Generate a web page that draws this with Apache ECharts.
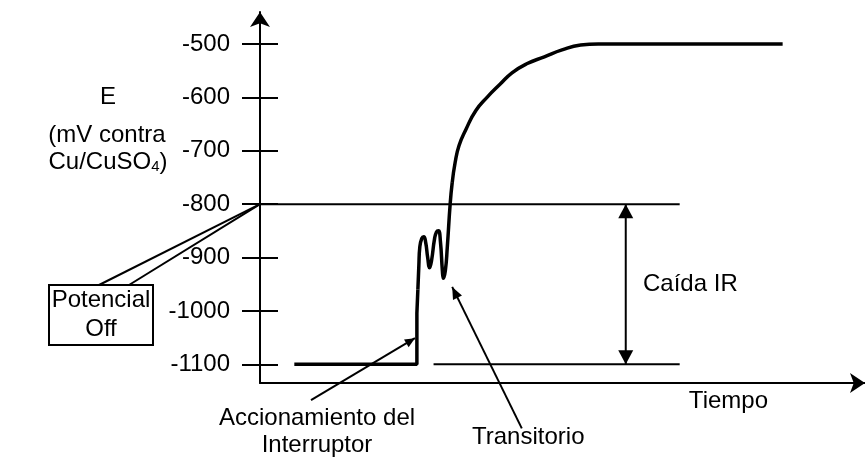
<!DOCTYPE html>
<html>
<head>
<meta charset="utf-8">
<script src="https://cdn.jsdelivr.net/npm/echarts@6/dist/echarts.min.js"></script>
<style>
  html, body { margin: 0; padding: 0; background: #fff; }
  #chart { width: 865px; height: 463px; }
</style>
</head>
<body>
<div id="chart"></div>
<script>
// E (mV vs Cu/CuSO4) tick values
const yTicks = [-1100, -1000, -900, -800, -700, -600, -500]

// time in arbitrary units, potential in mV
const onT = [35, 160, 160, 161]
const onE = [-1100, -1100, -1004, -960]

const transT = [161, 162, 163, 165, 167, 169, 171, 173, 175, 178, 180, 182, 184, 186, 187, 189, 191, 194, 196]
const transE = [-960, -915, -880, -864, -861, -872, -900, -919, -905, -865, -852, -850, -870, -925, -939, -925, -881, -798, -760]

const riseT = [196, 199, 203, 210, 220, 232, 245, 257, 272, 290, 308, 327, 345, 533]
const riseE = [-760, -722, -690, -660, -625, -599, -575, -554, -537, -524, -511, -502, -500, -500]

const offLevelT = [0, 428]
const offLevelE = [-800, -800]
const onLevelT = [177, 428]
const onLevelE = [-1100, -1100]

const FONT = '"Liberation Sans", Arial, sans-serif'
const FS = 24

const pairs = (t, e) => t.map((v, i) => [v, e[i]])

const chart = echarts.init(document.getElementById("chart"))

const thick = { color: "#000", width: 3.5 }
const thin = { color: "#000", width: 2 }

chart.setOption({
  animation: false,
  grid: { left: 260, right: -12, top: 12, bottom: 80 },
  xAxis: {
    type: "value",
    min: 0,
    max: 617,
    axisLine: { symbol: ["none", "arrow"], symbolSize: [15, 15], lineStyle: thin },
    axisTick: { show: false },
    axisLabel: { show: false },
    splitLine: { show: false },
  },
  yAxis: [
    {
      type: "value",
      min: -1135,
      max: -440,
      axisLine: { symbol: ["none", "arrow"], symbolSize: [15, 15], lineStyle: thin },
      axisTick: { customValues: yTicks, length: 18, lineStyle: thin },
      axisLabel: {
        customValues: yTicks,
        formatter: (v) => String(v),
        margin: 30,
        color: "#000",
        fontSize: FS,
        fontFamily: FONT,
      },
      splitLine: { show: false },
    },
    {
      type: "value",
      position: "left",
      min: -1135,
      max: -440,
      axisLine: { show: false },
      axisTick: { inside: true, customValues: yTicks, length: 18, lineStyle: thin },
      axisLabel: { show: false },
      splitLine: { show: false },
    },
  ],
  series: [
    { type: "line", symbol: "none", lineStyle: thin, data: pairs(offLevelT, offLevelE) },
    { type: "line", symbol: "none", lineStyle: thin, data: pairs(onLevelT, onLevelE) },
    { type: "line", symbol: "none", lineStyle: thick, data: pairs(onT, onE) },
    { type: "line", symbol: "none", smooth: 0.5, lineStyle: thick, data: pairs(transT, transE) },
    { type: "line", symbol: "none", smooth: 0.5, lineStyle: thick, data: pairs(riseT, riseE) },
  ],
})

// annotations
const px = (p) => chart.convertToPixel({ gridIndex: 0 }, p)

function arrowHead(tip, from, len, w) {
  const dx = tip[0] - from[0]
  const dy = tip[1] - from[1]
  const d = Math.hypot(dx, dy)
  const ux = dx / d, uy = dy / d
  const bx = tip[0] - ux * len, by = tip[1] - uy * len
  return {
    type: "polygon",
    shape: { points: [tip, [bx - uy * w / 2, by + ux * w / 2], [bx + uy * w / 2, by - ux * w / 2]] },
    style: { fill: "#000" },
  }
}
function seg(a, b, width) {
  return { type: "line", shape: { x1: a[0], y1: a[1], x2: b[0], y2: b[1] }, style: { stroke: "#000", lineWidth: width } }
}
function txt(s, x, y, align) {
  return {
    type: "text",
    style: { text: s, x, y, align: align || "center", verticalAlign: "middle", font: FS + "px " + FONT, fill: "#000" },
  }
}

const irTop = px([373, -800])
const irBot = px([373, -1100])
const offPt = px([0, -800])
const swTip = px([158, -1051])
const swFrom = px([52, -1167])
const trTip = px([196, -955])
const trFrom = px([267, -1220])

chart.setOption({
  graphic: [
    seg(irTop, irBot, 2),
    arrowHead(irTop, irBot, 14, 15),
    arrowHead(irBot, irTop, 14, 15),
    seg(swFrom, swTip, 2),
    arrowHead(swTip, swFrom, 10, 9),
    seg(trFrom, trTip, 2),
    arrowHead(trTip, trFrom, 12, 10),
    seg(offPt, [99, 285], 2),
    seg(offPt, [129, 285], 2),
    { type: "rect", shape: { x: 49, y: 285, width: 104, height: 60 }, style: { fill: "#fff", stroke: "#000", lineWidth: 2 } },
    txt("Potencial", 101, 300),
    txt("Off", 101, 329),
    txt("E", 108, 97),
    txt("(mV contra", 107, 135),
    {
      type: "text",
      style: {
        text: "{a|Cu/CuSO}{s|4}{a|)}",
        x: 108, y: 162, align: "center", verticalAlign: "middle",
        font: FS + "px " + FONT, fill: "#000",
        rich: {
          a: { fontSize: FS, fontFamily: FONT, fill: "#000" },
          s: { fontSize: 15, fontFamily: FONT, fill: "#000", padding: [10, 0, 0, 0] },
        },
      },
    },
    txt("Caída IR", 643, 284, "left"),
    txt("Tiempo", 768, 401, "right"),
    txt("Accionamiento del", 317, 418),
    txt("Interruptor", 317, 445),
    txt("Transitorio", 472, 437, "left"),
  ],
})
</script>
</body>
</html>
